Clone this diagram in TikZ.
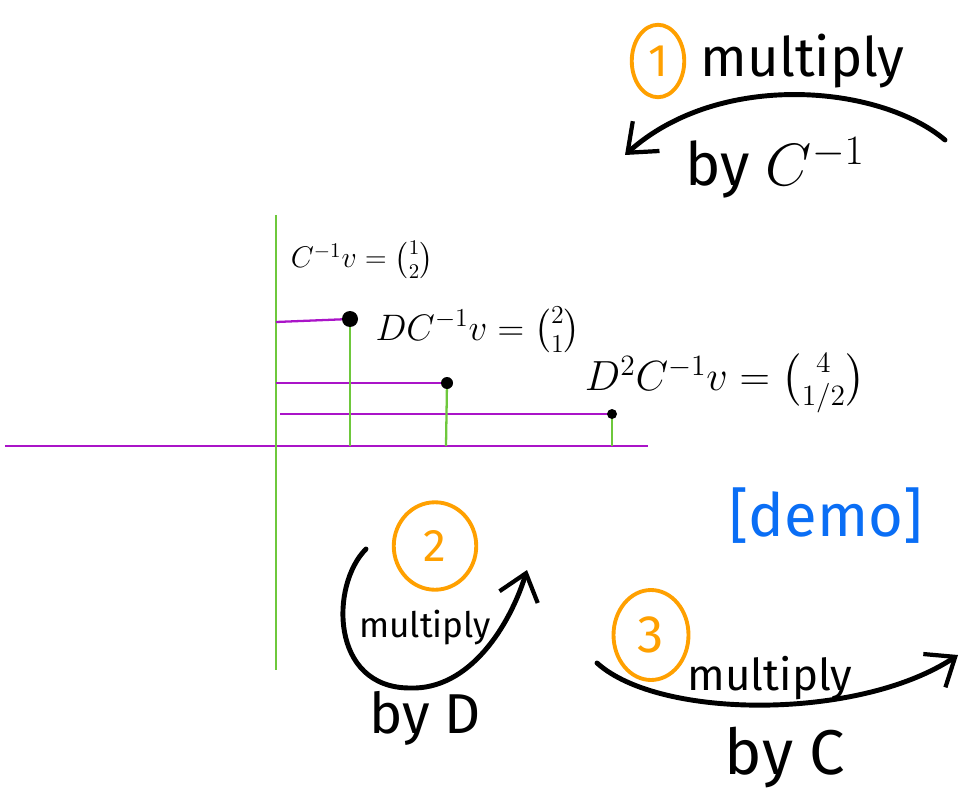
\RequirePackage{fix-cm}
\documentclass[tikz,border=0pt]{standalone}
\usepackage{amsmath}
\usepackage{fontspec}
\setmainfont{Fira Sans}
\usetikzlibrary{shapes.geometric,arrows.meta,positioning}

\definecolor{axpurple}{RGB}{170,20,200}
\definecolor{axgreen}{RGB}{110,200,60}
\definecolor{numorange}{RGB}{255,160,0}
\definecolor{demoblue}{RGB}{10,110,245}

\begin{document}
\begin{tikzpicture}[x=0.02cm, y=-0.02cm,
    hline/.style={draw=axpurple, line width=1.3pt},
    vline/.style={draw=axgreen, line width=1.3pt},
    dot/.style={circle, fill=black, inner sep=0pt},
    stepnum/.style={ellipse, draw=numorange, text=numorange, line width=2.2pt, inner sep=0pt},
    hand/.style={-{Straight Barb[length=5mm, width=8mm, line width=2.4pt]}, line width=2.8pt, line cap=round},
    word/.style={font=\fontsize{#1}{#1}\selectfont, inner sep=1pt},
    vlabel/.style={font=\fontsize{#1}{#1}\selectfont, inner sep=1pt}
]
\useasboundingbox (0,0) rectangle (963,804);

% axes
\coordinate (xl) at (5,446);
\coordinate (xr) at (648,446);
\coordinate (yt) at (276,215);
\coordinate (yb) at (276,670);
\draw[hline] (xl) -- (xr);
\draw[vline] (yt) -- (yb);

% the three vectors
\coordinate (c1) at (350,319);
\coordinate (c2) at (447,383);
\coordinate (c3) at (612,414);
\coordinate (l1) at (276,322);
\coordinate (l2) at (276,383);
\coordinate (l3) at (280,414);
\coordinate (f1) at (350,446);
\coordinate (f2) at (446,446);
\coordinate (f3) at (612,446);

\draw[hline] (l1) -- (c1);
\draw[hline] (l2) -- (c2);
\draw[hline] (l3) -- (c3);
\draw[vline] (c1) -- (f1);
\draw[vline] (c2) -- (f2);
\draw[vline] (c3) -- (f3);

\node (p1) [dot, minimum size=0.32cm] at (c1) {};
\node (p2) [dot, minimum size=0.24cm] at (c2) {};
\node (p3) [dot, minimum size=0.2cm] at (c3) {};

\node (lab1) [vlabel=17] at (362,260) {$C^{-1}v = \binom{1}{2}$};
\node (lab2) [vlabel=21] at (478,330) {$DC^{-1}v = \binom{2}{1}$};
\node (lab3) [vlabel=24] at (725,383) {$D^2C^{-1}v = \binom{4}{1/2}$};

% step 1
\node (one) [stepnum, minimum width=1.05cm, minimum height=1.45cm, font=\fontsize{26}{26}\selectfont] at (658,61) {1};
\node (mul1) [word=31, right=0.25cm of one] {multiply};
\coordinate (a1s) at (945,140);
\coordinate (a1e) at (625,155);
\draw[hand] (a1s) .. controls (880,85) and (720,70) .. (a1e);
\node (by1) [word=34] at (775,168) {by $C^{-1}$};

% step 2
\node (two) [stepnum, minimum width=1.65cm, minimum height=1.75cm, font=\fontsize{26}{26}\selectfont] at (435,546) {2};
\node (mul2) [word=20] at (425,628) {multiply};
\coordinate (a2s) at (366,549);
\coordinate (a2m) at (410,688);
\coordinate (a2e) at (527,570);
\draw[hand] (a2s) .. controls (330,585) and (330,688) .. (a2m) .. controls (470,690) and (510,625) .. (a2e);
\node (by2) [word=32] at (425,718) {by D};

% step 3
\node (three) [stepnum, minimum width=1.5cm, minimum height=1.8cm, font=\fontsize{30}{30}\selectfont] at (651,635) {3};
\node (mul3) [word=25] at (770,678) {multiply};
\coordinate (a3s) at (597,663);
\coordinate (a3e) at (958,655);
\draw[hand] (a3s) .. controls (660,720) and (860,720) .. (a3e);
\node (by3) [word=36] at (785,758) {by C};

% demo
\node (demo) [word=34, text=demoblue] at (826,516) {[demo]};

\end{tikzpicture}
\end{document}
